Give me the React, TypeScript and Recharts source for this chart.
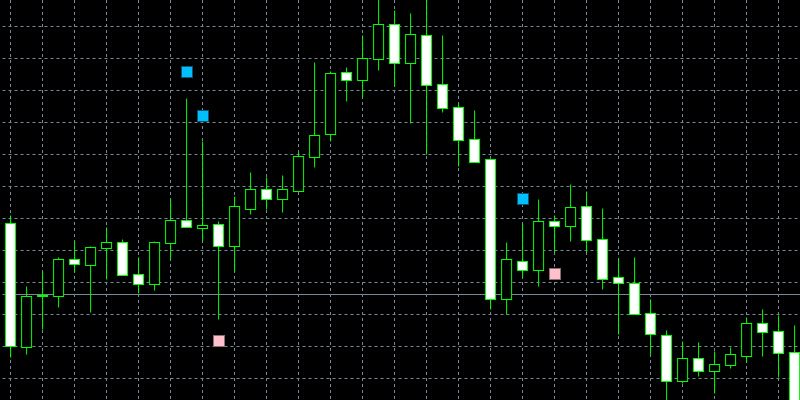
import React from 'react';
import { ComposedChart, Bar, Line, XAxis, YAxis, CartesianGrid } from 'recharts';

// prices in chart points (no axis labels on the original)
const opens = [177, 53, 104, 104, 141, 135, 152, 158, 126, 116,
  157, 180, 172, 176, 154, 191, 211, 201, 209, 243,
  266, 328, 320, 341, 376, 337, 365, 316, 293, 261,
  241, 101, 139, 130, 179, 174, 194, 161, 123, 117,
  87, 65, 19, 42, 29, 35, 44, 77, 69, 48];
const highs = [185, 114, 129, 143, 159, 154, 173, 161, 143, 159,
  201, 302, 259, 179, 204, 228, 223, 225, 248, 338,
  329, 333, 365, 403, 390, 387, 405, 365, 297, 290,
  241, 158, 177, 201, 185, 216, 209, 192, 142, 143,
  101, 70, 59, 58, 49, 53, 83, 91, 85, 75];
const lows = [43, 46, 71, 93, 128, 88, 121, 125, 107, 110,
  141, 173, 159, 81, 129, 186, 191, 188, 209, 233,
  259, 299, 303, 330, 314, 277, 246, 288, 234, 238,
  91, 86, 123, 114, 148, 159, 148, 111, 66, 86,
  46, -2, 17, 24, 7, 32, 38, 44, 23, -10];
const closes = [54, 104, 105, 141, 136, 153, 158, 125, 116, 158,
  180, 173, 175, 154, 194, 211, 201, 211, 244, 265,
  327, 320, 342, 376, 337, 366, 315, 292, 260, 238,
  101, 141, 130, 179, 174, 193, 160, 121, 117, 86,
  66, 19, 42, 29, 36, 46, 77, 68, 47, -5];

// fractal marks: bar index and level
const upBars = [11, 12, 32];
const upLevels = [328, 284, 201];
const downBars = [13, 34];
const downLevels = [59, 126];

const gridLevels = [22, 54, 86, 118, 150, 182, 214, 246, 278, 310, 342, 374];
const bidPrice = 106;

const data = opens.map((o, i) => {
  const u = upBars.indexOf(i);
  const d = downBars.indexOf(i);
  return {
    bar: i,
    open: o,
    high: highs[i],
    low: lows[i],
    close: closes[i],
    up: u >= 0 ? upLevels[u] : null,
    down: d >= 0 ? downLevels[d] : null,
  };
});
const gridBars = data.filter((d) => d.bar % 2 === 0).map((d) => d.bar);

const Candle = (props: any) => {
  const { x, y, width, height, payload } = props;
  const { open, close, high, low } = payload;
  const cx = x + width / 2;
  const k = height / (high - low);
  const top = y + (high - Math.max(open, close)) * k;
  const bot = y + (high - Math.min(open, close)) * k;
  return (
    <g>
      <line x1={cx} x2={cx} y1={y} y2={y + height} stroke="#00ff00" />
      <rect
        x={cx - 5}
        y={top}
        width={10}
        height={Math.max(bot - top, 1)}
        fill={close < open ? '#ffffff' : '#000000'}
        stroke="#00ff00"
      />
    </g>
  );
};

const square = (fill: string, edge: string) => (props: any) => {
  const { cx, cy, index } = props;
  if (cx == null || cy == null) return <g key={index} />;
  return (
    <rect
      key={index}
      x={Math.round(cx - 5.5) + 0.5}
      y={Math.round(cy - 6.5) + 0.5}
      width={11}
      height={11}
      fill={fill}
      stroke={edge}
    />
  );
};

export default function App() {
  return (
    <div style={{ position: 'fixed', left: 0, top: 0, width: 800, height: 400, overflow: 'hidden', background: '#000' }}>
      <ComposedChart
        width={803}
        height={400}
        data={data}
        margin={{ top: 0, right: 0.5, bottom: 0, left: 2.5 }}
      >
        <XAxis dataKey="bar" type="category" hide />
        <YAxis type="number" domain={[0.5, 400.5]} allowDataOverflow hide />
        <CartesianGrid stroke="#778899" strokeDasharray="3 3"
          horizontalValues={gridLevels} verticalValues={gridBars} />
        {/* bid line, kept under the candles */}
        <CartesianGrid stroke="#778899" vertical={false} horizontalValues={[bidPrice]} />
        <Bar dataKey={(d: any) => [d.low, d.high]} shape={Candle} isAnimationActive={false} />
        <Line dataKey="up" stroke="none" dot={square('#00bfff', '#0b5570')} activeDot={false}
          isAnimationActive={false} />
        <Line dataKey="down" stroke="none" dot={square('#ffc0cb', '#8a6d72')} activeDot={false}
          isAnimationActive={false} />
      </ComposedChart>
    </div>
  );
}
